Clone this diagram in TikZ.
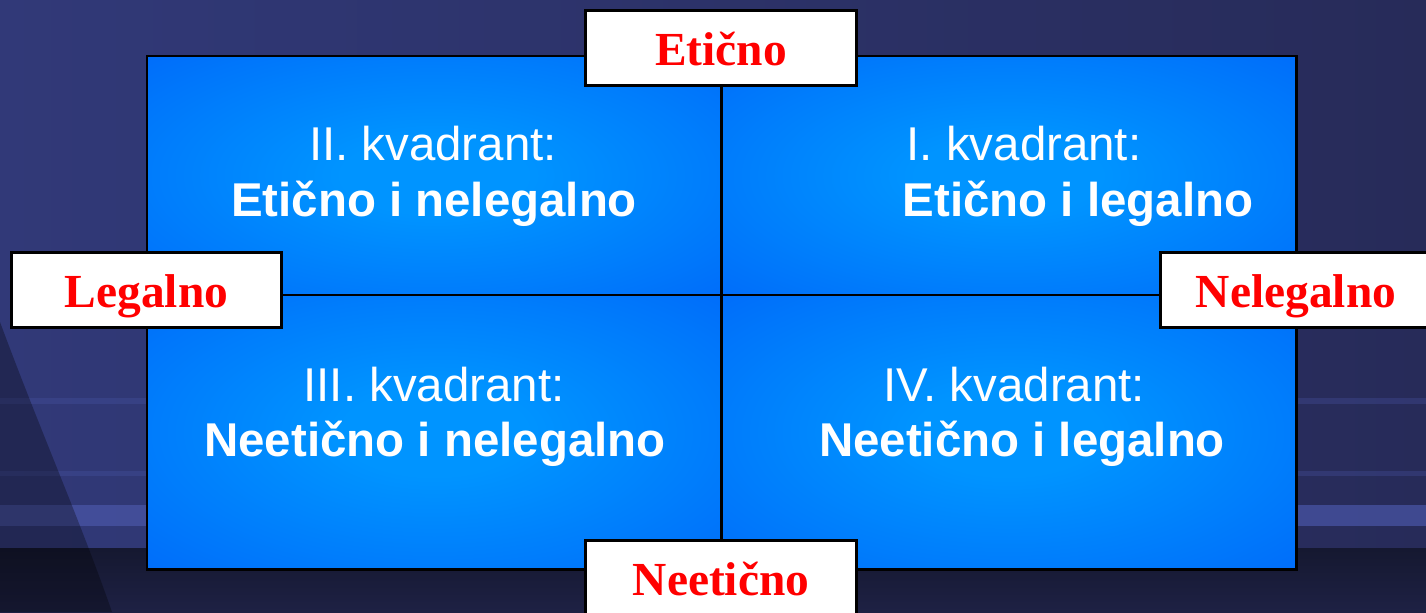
\documentclass[tikz,border=0pt]{standalone}
\usepackage{fontspec}
\setmainfont{Liberation Serif}
\newfontfamily\arialf{Liberation Sans}
\definecolor{bgtop}{HTML}{313978}
\definecolor{bgright}{HTML}{272B59}
\definecolor{bgbot}{HTML}{1E2144}
\definecolor{bgbottop}{HTML}{151830}
\definecolor{stripe}{HTML}{4A56A8}
\definecolor{glowin}{HTML}{0094FF}
\definecolor{glowout}{HTML}{0064F8}
\pgfdeclareradialshading{glow}{\pgfpoint{0bp}{0bp}}{color(0bp)=(glowin); color(8bp)=(glowin); color(42bp)=(glowout); color(100bp)=(glowout)}
\tikzset{
  quadline/.style={line width=1.7pt, draw=black},
  labelbox/.style={draw=black, line width=1.7pt, fill=white, minimum width=154.2pt, minimum height=43.1pt, inner sep=0pt},
  redtxt/.style={text=red, font=\fontsize{27}{32}\selectfont\bfseries, anchor=base, inner sep=0pt},
  qreg/.style={text=white, font=\arialf\fontsize{27}{32}\selectfont, anchor=base, inner sep=0pt},
  qbold/.style={text=white, font=\arialf\fontsize{27}{32}\selectfont\bfseries, anchor=base, inner sep=0pt},
}
\begin{document}
\begin{tikzpicture}[x=0.02cm, y=-0.02cm]
\useasboundingbox (0,0) rectangle (1426,612);
% background
\shade[left color=bgtop, right color=bgright] (0,0) rectangle (1426,548);
\fill[stripe, opacity=0.3] (0,398) rectangle (1426,404);
\fill[stripe, opacity=0.3] (0,471) rectangle (1426,476);
\fill[stripe, opacity=0.7] (0,505) rectangle (1426,526);
\shade[top color=bgbottop, bottom color=bgbot] (0,548) rectangle (1426,612);
\fill[black, opacity=0.3] (0,322) .. controls (40,430) and (80,520) .. (112,612) -- (0,612) -- cycle;
% quadrants
\coordinate (tl) at (147,56);
\coordinate (br) at (1296,569);
\coordinate (mt) at (721,56);
\coordinate (mb) at (721,569);
\coordinate (ml) at (147,295);
\coordinate (mr) at (1296,295);
\shade[shading=glow] (147,56) rectangle (721,295);
\shade[shading=glow] (721,56) rectangle (1296,295);
\shade[shading=glow] (147,295) rectangle (721,569);
\shade[shading=glow] (721,295) rectangle (1296,569);
\draw[quadline] (tl) rectangle (br);
\draw[quadline] (mt) -- (mb);
\draw[quadline] (ml) -- (mr);
% quadrant texts
\node[qreg]  (q2a) at (433,160) {II. kvadrant:};
\node[qbold] (q2b) at (434,216) {Etično i nelegalno};
\node[qreg]  (q1a) at (1024,160) {I. kvadrant:};
\node[qbold] (q1b) at (1078,216) {Etično i legalno};
\node[qreg]  (q3a) at (434,401) {III. kvadrant:};
\node[qbold] (q3b) at (435,456) {Neetično i nelegalno};
\node[qreg]  (q4a) at (1014,401) {IV. kvadrant:};
\node[qbold] (q4b) at (1022,456) {Neetično i legalno};
% label boxes
\node[labelbox] (etb) at (721,48) {};
\node[redtxt] (et) at (721,65) {Etično};
\node[labelbox] (legb) at (146.5,290) {};
\node[redtxt] (leg) at (146.5,307) {Legalno};
\node[labelbox] (nlegb) at (1296,290) {};
\node[redtxt] (nleg) at (1296,307) {Nelegalno};
\node[labelbox] (netb) at (721,578) {};
\node[redtxt] (net) at (721,595) {Neetično};
\end{tikzpicture}
\end{document}
